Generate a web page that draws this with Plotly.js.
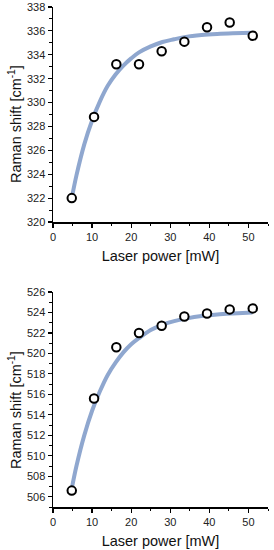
<!DOCTYPE html>
<html>
<head>
<meta charset="utf-8">
<script src="https://cdn.plot.ly/plotly-3.0.1.min.js"></script>
<style>html,body{margin:0;padding:0;background:#fff;}#chart{width:274px;height:550px;}</style>
</head>
<body>
<div id="chart"></div>
<script>
// Measured laser power values (mW)
var laserPower = [4.8, 10.5, 16.2, 22.0, 27.8, 33.6, 39.4, 45.2, 51.1];
// Top panel: Raman shift (cm-1)
var shiftTop = [322.0, 328.8, 333.2, 333.2, 334.3, 335.1, 336.3, 336.7, 335.6];
// Bottom panel: Raman shift (cm-1)
var shiftBottom = [506.6, 515.6, 520.6, 522.0, 522.7, 523.6, 523.9, 524.3, 524.4];

// Fitted curves
var fitPower = [4.8, 6, 8, 10, 12, 14, 16, 18, 20, 22, 25, 28, 31, 34, 38, 42, 46, 51];
var fitTop = [322.0, 323.9, 326.5, 328.5, 330.1, 331.4, 332.35, 333.1, 333.7, 334.2, 334.7, 335.07, 335.3, 335.5, 335.65, 335.74, 335.8, 335.85];
var fitBottom = [506.8, 509.0, 512.0, 514.4, 516.3, 517.9, 519.1, 520.1, 520.9, 521.5, 522.3, 522.8, 523.15, 523.4, 523.65, 523.8, 523.9, 524.0];

var xTicks = [0, 10, 20, 30, 40, 50];
var yTicksTop = [320, 322, 324, 326, 328, 330, 332, 334, 336, 338];
var yTicksBottom = [506, 508, 510, 512, 514, 516, 518, 520, 522, 524, 526];

var xTitle = 'Laser power [mW]';
var yTitle = 'Raman shift [cm<sup>-1</sup>]';

var FONT = 'Liberation Sans, Arial, sans-serif';
var curveColor = 'rgb(143,167,207)';

function fitTrace(y, xa, ya) {
  return {x: fitPower, y: y, xaxis: xa, yaxis: ya, mode: 'lines', type: 'scatter',
    line: {color: curveColor, width: 4, shape: 'spline'}, hoverinfo: 'skip'};
}
function ptTrace(y, xa, ya) {
  return {x: laserPower, y: y, xaxis: xa, yaxis: ya, mode: 'markers', type: 'scatter',
    marker: {symbol: 'circle', size: 8.5, color: '#ffffff', line: {color: '#000000', width: 2}}};
}

var data = [
  fitTrace(fitTop, 'x', 'y'), ptTrace(shiftTop, 'x', 'y'),
  fitTrace(fitBottom, 'x2', 'y2'), ptTrace(shiftBottom, 'x2', 'y2')
];

function xAxis(anchor) {
  return {
    anchor: anchor, domain: [53/274, 268/274], range: [0, 55],
    tickmode: 'array', tickvals: xTicks, ticks: 'outside', ticklen: 4, tickwidth: 1.2, tickcolor: '#000',
    showline: true, linecolor: '#000', linewidth: 1.5, showgrid: false, zeroline: false,
    tickfont: {family: FONT, size: 11, color: '#222'},
    minor: {dtick: 5, tick0: 0, ticks: 'outside', ticklen: 2.5, tickcolor: '#000', tickwidth: 1, showgrid: false},
    title: {text: xTitle, font: {family: FONT, size: 14.5, color: '#111'}, standoff: 9}
  };
}
function yAxis(anchor, domain, range, ticks) {
  return {
    anchor: anchor, domain: domain, range: range,
    tickmode: 'array', tickvals: ticks, ticks: 'outside', ticklen: 4, tickwidth: 1.2, tickcolor: '#000',
    showline: true, linecolor: '#000', linewidth: 1.5, showgrid: false, zeroline: false,
    tickfont: {family: FONT, size: 11, color: '#222'},
    minor: {dtick: 1, ticks: 'outside', ticklen: 2.5, tickcolor: '#000', tickwidth: 1, showgrid: false}
  };
}
function yTitleAnn(yc) {
  return {text: yTitle, xref: 'paper', yref: 'paper', x: 15/274, y: yc, xanchor: 'center', yanchor: 'middle',
    textangle: -90, showarrow: false, font: {family: FONT, size: 14.5, color: '#111'}};
}

var layout = {
  width: 274, height: 550,
  margin: {l: 0, r: 0, t: 0, b: 0},
  paper_bgcolor: '#fff', plot_bgcolor: '#fff',
  showlegend: false,
  xaxis: xAxis('y'),
  yaxis: yAxis('x', [1 - 222/550, 1 - 7/550], [320, 338], yTicksTop),
  xaxis2: xAxis('y2'),
  yaxis2: yAxis('x2', [1 - 507/550, 1 - 292/550], [505, 526], yTicksBottom),
  annotations: [yTitleAnn(1 - 124/550), yTitleAnn(1 - 410/550)]
};

Plotly.newPlot('chart', data, layout, {staticPlot: true, displayModeBar: false});
</script>
</body>
</html>
